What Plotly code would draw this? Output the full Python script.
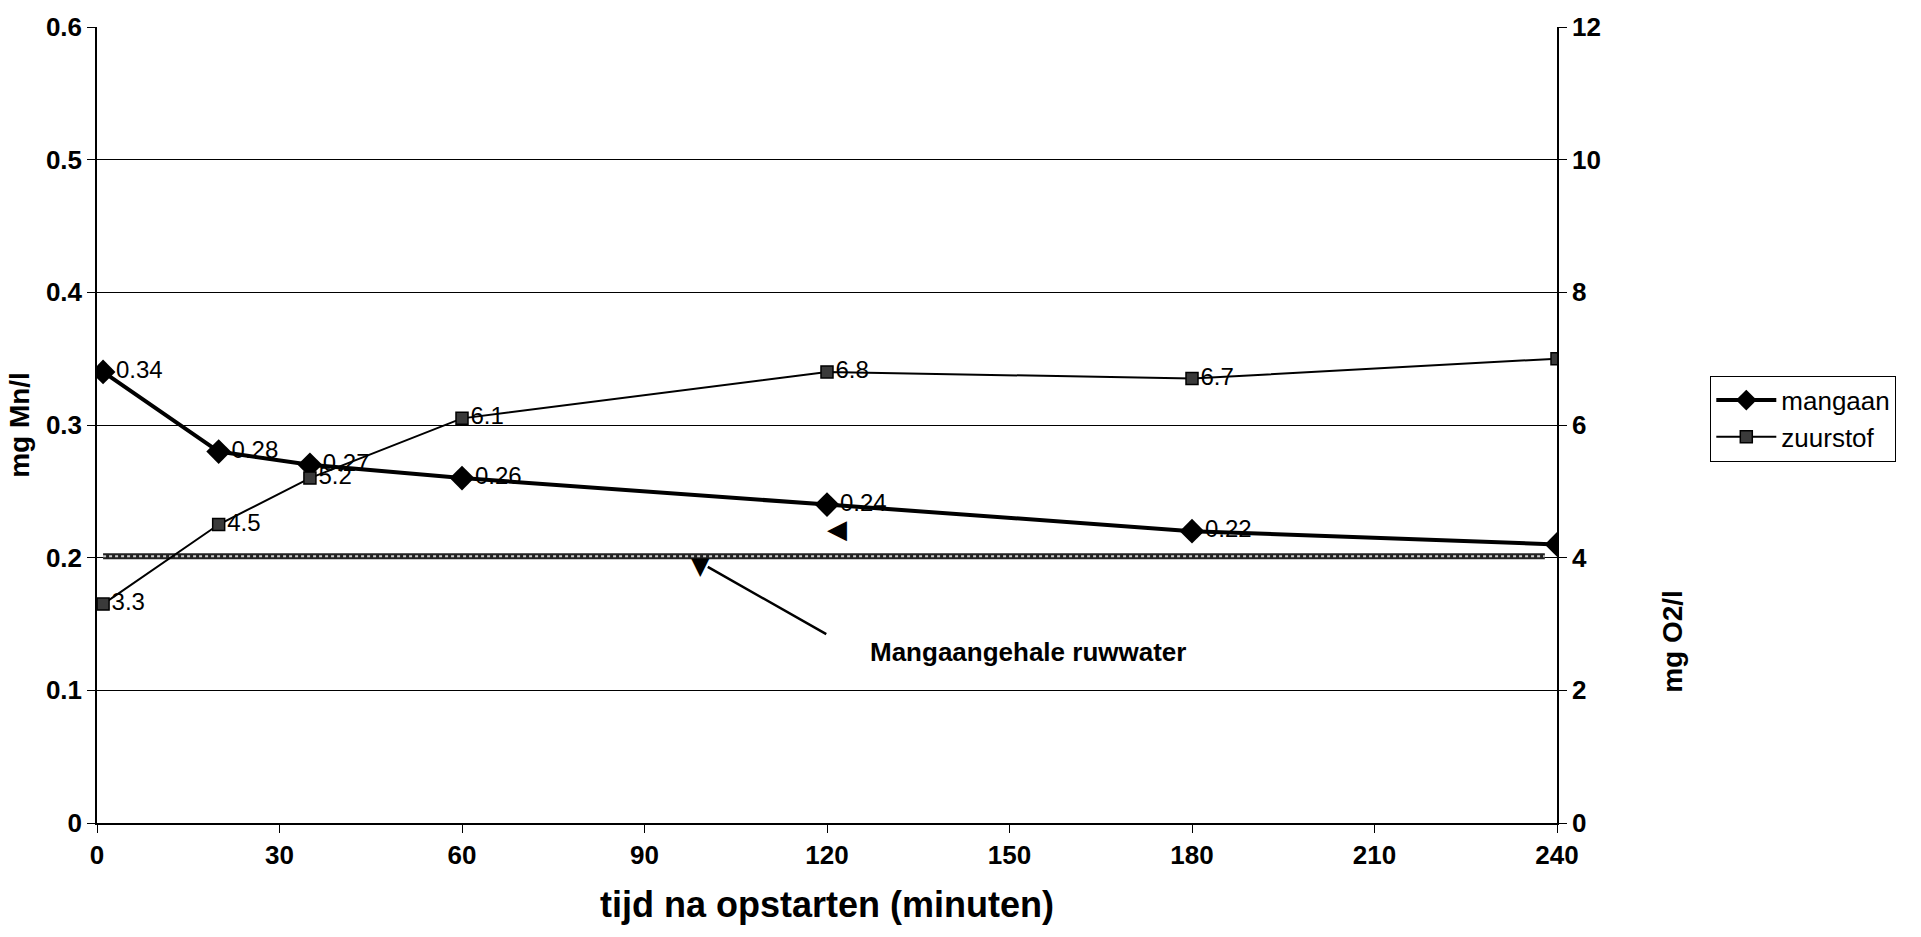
import plotly.graph_objects as go

# ---- data ----
tijd = [1, 20, 35, 60, 120, 180, 240]
mangaan = [0.34, 0.28, 0.27, 0.26, 0.24, 0.22, 0.21]
zuurstof = [3.3, 4.5, 5.2, 6.1, 6.8, 6.7, 7.0]
mangaan_labels = ["0.34", "0.28", "0.27", "0.26", "0.24", "0.22", "0.21"]
zuurstof_labels = ["3.3", "4.5", "5.2", "6.1", "6.8", "6.7", "7"]
ruwwater_x = [1, 238]
ruwwater_mn = [0.201, 0.201]
x_ticks = [0, 30, 60, 90, 120, 150, 180, 210, 240]
y_ticks = [0, 0.1, 0.2, 0.3, 0.4, 0.5, 0.6]
y2_ticks = [0, 2, 4, 6, 8, 10, 12]

FONT = "Liberation Sans, Arial, sans-serif"
TICKFONT = dict(family=FONT, size=26, color="black", weight="bold")

fig = go.Figure()

# hatched reference line (Mn in raw water)
fig.add_trace(go.Scatter(x=ruwwater_x, y=ruwwater_mn, mode="lines",
                         line=dict(color="#222222", width=6),
                         showlegend=False, hoverinfo="skip"))
fig.add_trace(go.Scatter(x=ruwwater_x, y=ruwwater_mn, mode="lines",
                         line=dict(color="#cccccc", width=2, dash="dot"),
                         showlegend=False, hoverinfo="skip"))

fig.add_trace(go.Scatter(
    x=tijd, y=mangaan, name="mangaan", mode="lines+markers+text",
    line=dict(color="black", width=4),
    marker=dict(symbol="diamond", size=19, color="black"),
    text=mangaan_labels, textposition="middle right",
    textfont=dict(family=FONT, size=24, color="black"),
))
fig.add_trace(go.Scatter(
    x=tijd, y=zuurstof, name="zuurstof", mode="lines+markers+text",
    yaxis="y2",
    line=dict(color="black", width=2),
    marker=dict(symbol="square", size=12, color="#3a3a3a",
                line=dict(color="black", width=1.5)),
    text=zuurstof_labels, textposition="middle right",
    textfont=dict(family=FONT, size=24, color="black"),
))

fig.update_layout(
    width=1921, height=937,
    margin=dict(l=97, r=364, t=21, b=114),
    paper_bgcolor="white", plot_bgcolor="white",
    font=dict(family=FONT, color="black"),
    showlegend=True,
    legend=dict(x=1.105, y=0.562, xanchor="left", yanchor="top",
                bordercolor="black", borderwidth=1,
                font=dict(family=FONT, size=26, color="black"),
                itemwidth=60, tracegroupgap=0),
    xaxis=dict(range=[0, 240], tickvals=x_ticks, showgrid=False, zeroline=False,
               showline=True, linecolor="black", linewidth=1.5,
               ticks="outside", ticklen=8, tickcolor="black",
               tickfont=TICKFONT),
    yaxis=dict(range=[0, 0.6], tickvals=y_ticks, showgrid=True,
               gridcolor="black", gridwidth=1, zeroline=False,
               showline=True, linecolor="black", linewidth=1.5,
               ticks="outside", ticklen=8, tickcolor="black",
               tickfont=TICKFONT,
               title=dict(text="mg Mn/l",
                          font=dict(family=FONT, size=28, color="black",
                                    weight="bold"),
                          standoff=8)),
    yaxis2=dict(range=[0, 12], tickvals=y2_ticks, overlaying="y", side="right",
                showgrid=False, zeroline=False,
                showline=True, linecolor="black", linewidth=1.5,
                ticks="outside", ticklen=8, tickcolor="black",
                tickfont=TICKFONT),
)

# x-axis title
fig.add_annotation(xref="paper", yref="paper", x=0.5, y=-0.102,
                   xanchor="center", yanchor="middle",
                   text="tijd na opstarten (minuten)", showarrow=False,
                   font=dict(family=FONT, size=36, color="black", weight="bold"))

# right axis title (placed lower than centre, as in the original)
fig.add_annotation(xref="paper", yref="paper", x=1.079, y=0.228,
                   xanchor="center", yanchor="middle",
                   text="mg O2/l", textangle=-90, showarrow=False,
                   font=dict(family=FONT, size=28, color="black", weight="bold"))

# pointer line to the reference line, with its triangular head and label
fig.add_annotation(x=100.4, y=0.193, xref="x", yref="y", text="",
                   showarrow=True, arrowhead=0, arrowwidth=2.5,
                   arrowcolor="black", ax=120, ay=68)
fig.add_annotation(x=99.2, y=0.194, xref="x", yref="y", text="▼",
                   showarrow=False, yanchor="middle",
                   font=dict(family="DejaVu Sans", size=24, color="black"))
fig.add_annotation(x=0.638, y=0.215, xref="paper", yref="paper",
                   xanchor="center", yanchor="middle",
                   text="Mangaangehale ruwwater", showarrow=False,
                   font=dict(family=FONT, size=26, color="black", weight="bold"))
# stray triangle glyph in original
fig.add_annotation(x=121.6, y=0.2214, xref="x", yref="y", text="◀",
                   showarrow=False,
                   font=dict(family="DejaVu Sans", size=26, color="black"))

fig.write_html("out.html")
